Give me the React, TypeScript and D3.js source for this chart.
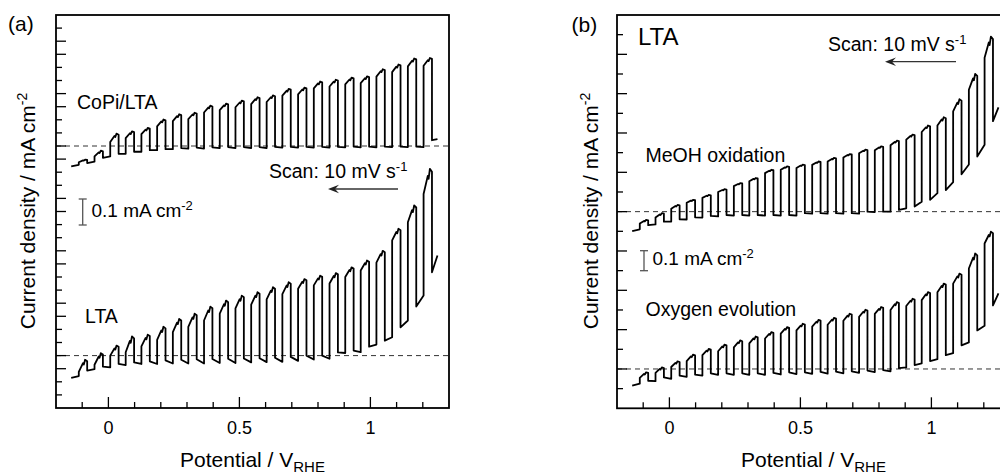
import React from "react";
import * as d3 from "d3";

// ---------- data ----------
// chopped-light LSV, scan 10 mV/s from high to low potential; values in mA cm^-2
const pulseStart = [
  -0.113, -0.053, 0.007, 0.066, 0.126, 0.186, 0.246, 0.305, 0.365, 0.425, 0.485, 0.545,
  0.604, 0.664, 0.724, 0.784, 0.844, 0.904, 0.963, 1.023, 1.083, 1.143, 1.203,
];
const chopOn = 0.032; // width (V) of each illuminated interval
const traceStartV = -0.142;
const traceEndV = 1.256;
const xTickLabels = [0, 0.5, 1];

// (a) CoPi/LTA (plotted with +0.8 offset)
const copiStart = -0.078;
const copiDarkBefore = [-0.072, -0.06, -0.04, -0.03, -0.022, -0.016, -0.012, -0.01, -0.01, -0.008, -0.008, -0.008, -0.008, -0.006, -0.006, -0.006, -0.006, -0.005, -0.005, -0.005, -0.004, -0.004, -0.004];
const copiOnStart = [-0.062, -0.04, 0.015, 0.03, 0.045, 0.075, 0.095, 0.103, 0.128, 0.137, 0.148, 0.16, 0.168, 0.192, 0.197, 0.22, 0.227, 0.235, 0.24, 0.265, 0.282, 0.304, 0.306];
const copiPeak = [-0.052, -0.018, 0.047, 0.056, 0.069, 0.101, 0.121, 0.127, 0.154, 0.162, 0.173, 0.186, 0.193, 0.218, 0.223, 0.246, 0.253, 0.261, 0.266, 0.293, 0.311, 0.334, 0.336];
const copiDarkAfter = [-0.065, -0.045, -0.03, -0.022, -0.016, -0.012, -0.008, -0.006, -0.005, -0.004, -0.004, -0.004, -0.003, -0.003, -0.003, -0.003, -0.003, -0.002, -0.002, -0.002, -0.002, -0.002, 0.022];
const copiEnd = 0.026;

// (a) LTA
const ltaStart = -0.085;
const ltaDarkBefore = [-0.078, -0.052, -0.045, -0.036, -0.032, -0.032, -0.03, -0.03, -0.03, -0.028, -0.028, -0.026, -0.025, -0.024, -0.02, -0.015, -0.012, 0.01, 0.013, 0.042, 0.07, 0.134, 0.229];
const ltaOnStart = [-0.062, -0.035, 0.0, 0.013, 0.035, 0.06, 0.09, 0.11, 0.134, 0.16, 0.18, 0.195, 0.215, 0.235, 0.255, 0.268, 0.275, 0.3, 0.325, 0.355, 0.44, 0.509, 0.617];
const ltaPeak = [-0.016, 0.009, 0.038, 0.073, 0.08, 0.11, 0.14, 0.16, 0.187, 0.21, 0.229, 0.242, 0.261, 0.28, 0.292, 0.305, 0.315, 0.337, 0.363, 0.4, 0.484, 0.573, 0.713];
const ltaDarkAfter = [-0.057, -0.042, -0.032, -0.026, -0.022, -0.018, -0.016, -0.014, -0.013, -0.012, -0.011, -0.01, -0.008, -0.005, 0.0, 0.0, 0.012, 0.019, 0.034, 0.057, 0.108, 0.187, 0.318];
const ltaEnd = 0.382;

// (b) MeOH oxidation (plotted with +0.8 offset)
const meohStart = -0.099;
const meohDarkBefore = [-0.09, -0.065, -0.05, -0.04, -0.03, -0.024, -0.02, -0.02, -0.02, -0.02, -0.02, -0.01, -0.01, -0.01, -0.01, -0.002, 0.0, 0.017, 0.05, 0.094, 0.15, 0.24, 0.34];
const meohOnStart = [-0.06, -0.03, 0.015, 0.045, 0.07, 0.1, 0.13, 0.155, 0.196, 0.213, 0.222, 0.238, 0.255, 0.275, 0.297, 0.312, 0.338, 0.366, 0.405, 0.438, 0.51, 0.62, 0.783];
const meohPeak = [-0.042, -0.008, 0.034, 0.06, 0.085, 0.114, 0.145, 0.171, 0.213, 0.23, 0.239, 0.255, 0.273, 0.293, 0.315, 0.332, 0.361, 0.392, 0.438, 0.48, 0.572, 0.7, 0.89];
const meohDarkAfter = [-0.069, -0.051, -0.039, -0.029, -0.022, -0.017, -0.017, -0.017, -0.017, -0.017, -0.008, -0.008, -0.008, -0.008, 0.0, 0.0, 0.009, 0.026, 0.06, 0.11, 0.19, 0.28, 0.46];
const meohEnd = 0.53;

// (b) Oxygen evolution
const oerStart = -0.085;
const oerDarkBefore = [-0.075, -0.062, -0.05, -0.04, -0.034, -0.03, -0.03, -0.03, -0.03, -0.028, -0.026, -0.025, -0.024, -0.022, -0.02, -0.016, -0.012, 0.008, 0.028, 0.05, 0.08, 0.135, 0.22];
const oerOnStart = [-0.045, -0.02, 0.01, 0.04, 0.07, 0.09, 0.11, 0.13, 0.155, 0.18, 0.196, 0.215, 0.225, 0.245, 0.265, 0.28, 0.3, 0.32, 0.35, 0.39, 0.434, 0.511, 0.638];
const oerPeak = [-0.017, 0.008, 0.039, 0.073, 0.102, 0.124, 0.145, 0.165, 0.187, 0.213, 0.23, 0.25, 0.26, 0.281, 0.301, 0.315, 0.34, 0.357, 0.391, 0.434, 0.485, 0.587, 0.698];
const oerDarkAfter = [-0.06, -0.043, -0.034, -0.029, -0.022, -0.022, -0.022, -0.022, -0.02, -0.017, -0.017, -0.015, -0.014, -0.012, -0.008, -0.006, 0.004, 0.02, 0.04, 0.07, 0.12, 0.196, 0.323];
const oerEnd = 0.385;

type Trace = {
  start: number; end: number; offset: number;
  darkBefore: number[]; onStart: number[]; peak: number[]; darkAfter: number[];
};

const copi: Trace = { start: copiStart, end: copiEnd, offset: 0.8, darkBefore: copiDarkBefore, onStart: copiOnStart, peak: copiPeak, darkAfter: copiDarkAfter };
const lta: Trace = { start: ltaStart, end: ltaEnd, offset: 0, darkBefore: ltaDarkBefore, onStart: ltaOnStart, peak: ltaPeak, darkAfter: ltaDarkAfter };
const meoh: Trace = { start: meohStart, end: meohEnd, offset: 0.8, darkBefore: meohDarkBefore, onStart: meohOnStart, peak: meohPeak, darkAfter: meohDarkAfter };
const oer: Trace = { start: oerStart, end: oerEnd, offset: 0, darkBefore: oerDarkBefore, onStart: oerOnStart, peak: oerPeak, darkAfter: oerDarkAfter };

function tracePoints(t: Trace): [number, number][] {
  const pts: [number, number][] = [[traceStartV, t.start]];
  pulseStart.forEach((v0, i) => {
    const w = chopOn;
    const a = t.onStart[i];
    const p = t.peak[i];
    pts.push([v0, t.darkBefore[i]]);
    pts.push([v0, a]);
    pts.push([v0 + 0.5 * w, a + 0.72 * (p - a)]);
    pts.push([v0 + 0.6 * w, a + 0.6 * (p - a)]);
    pts.push([v0 + 0.75 * w, p]);
    pts.push([v0 + w, p - 0.12 * (p - a)]);
    pts.push([v0 + w, t.darkAfter[i]]);
  });
  pts.push([traceEndV, t.end]);
  return pts.map(([v, c]) => [v, c + t.offset]);
}

const FONT = "Arial, 'Liberation Sans', Helvetica, sans-serif";

type PanelProps = {
  left: number; right: number; top: number; bottom: number; yMax: number;
  traces: Trace[]; baselines: number[]; children?: React.ReactNode;
};

function Panel({ left, right, top, bottom, yMax, traces, baselines, children }: PanelProps) {
  const x = d3.scaleLinear().domain([-0.2, 1.3]).range([left, right]);
  const y = d3.scaleLinear().domain([-0.2, yMax]).range([bottom, top]);
  const line = d3.line<[number, number]>().x((d) => x(d[0])).y((d) => y(d[1]));
  const xTicks = x.ticks(15).filter((v) => v > -0.2 + 1e-6 && v < 1.3 - 1e-6);
  const yTicks = y.ticks(25).filter((v) => v > -0.2 + 1e-6 && v < yMax - 1e-6);
  const isMajorX = (v: number) => xTickLabels.some((l) => Math.abs(l - v) < 1e-6);
  const isMajorY = (v: number) => Math.abs(Math.round(v * 10)) % 2 === 0;
  return (
    <g>
      {baselines.map((b) => (
        <line key={b} x1={left} x2={right} y1={y(b)} y2={y(b)} stroke="#333" strokeWidth={1} strokeDasharray="5,4" />
      ))}
      {traces.map((t, i) => (
        <path key={i} d={line(tracePoints(t)) || ""} fill="none" stroke="#000" strokeWidth={1.8} strokeLinejoin="round" />
      ))}
      {xTicks.map((v) => (
        <line key={"x" + v} x1={x(v)} x2={x(v)} y1={bottom} y2={bottom - (isMajorX(v) ? 11 : 6)} stroke="#000" strokeWidth={1.3} />
      ))}
      {yTicks.map((v) => (
        <line key={"y" + v} x1={left} x2={left + (isMajorY(v) ? 10 : 6)} y1={y(v)} y2={y(v)} stroke="#000" strokeWidth={1.3} />
      ))}
      {xTickLabels.map((v) => (
        <text key={"l" + v} x={x(v)} y={434} textAnchor="middle" fontSize={18}>{String(v)}</text>
      ))}
      <rect x={left} y={top} width={right - left} height={bottom - top} fill="none" stroke="#000" strokeWidth={1.8} />
      <text x={(left + right) / 2} y={467} textAnchor="middle" fontSize={21}>
        Potential / V<tspan dy={5} fontSize={15}>RHE</tspan>
      </text>
      {children}
    </g>
  );
}

function Arrow({ x1, x2, y }: { x1: number; x2: number; y: number }) {
  // arrow from x1 (tail, right) pointing to x2 (tip, left)
  return (
    <g>
      <line x1={x1} x2={x2 + 5} y1={y} y2={y} stroke="#333" strokeWidth={1.3} />
      <path d={`M${x2},${y} L${x2 + 11},${y - 4.2} L${x2 + 7},${y} L${x2 + 11},${y + 4.2} Z`} fill="#222" />
    </g>
  );
}

function ScaleBar({ x, y1, y2 }: { x: number; y1: number; y2: number }) {
  return (
    <g stroke="#555" strokeWidth={1.3}>
      <line x1={x} x2={x} y1={y1} y2={y2} />
      <line x1={x - 4} x2={x + 4} y1={y1} y2={y1} />
      <line x1={x - 4} x2={x + 4} y1={y2} y2={y2} />
    </g>
  );
}

function YTitle({ x, y }: { x: number; y: number }) {
  return (
    <text transform={`translate(${x},${y}) rotate(-90)`} textAnchor="middle" fontSize={21}>
      Current density / mA cm<tspan dy={-8} fontSize={14}>-2</tspan>
    </text>
  );
}

export default function App() {
  return (
    <svg width={1000} height={476} style={{ position: "absolute", left: 0, top: 0, background: "#fff" }} fontFamily={FONT} fill="#000">
      <rect x={0} y={0} width={1000} height={476} fill="#fff" />
      <Panel left={56} right={449} top={15} bottom={408} yMax={1.3} traces={[copi, lta]} baselines={[0.8, 0]}>
        <text x={8} y={31} fontSize={21}>(a)</text>
        <YTitle x={35} y={211} />
        <text x={77} y={109} fontSize={19.5}>CoPi/LTA</text>
        <text x={269} y={177.5} fontSize={19.5}>
          Scan: 10 mV s<tspan dy={-7} fontSize={13}>-1</tspan>
        </text>
        <Arrow x1={398} x2={328} y={189} />
        <ScaleBar x={82.7} y1={199} y2={225} />
        <text x={91.5} y={217} fontSize={19}>
          0.1 mA cm<tspan dy={-7} fontSize={13}>-2</tspan>
        </text>
        <text x={85} y={322.5} fontSize={19.5}>LTA</text>
      </Panel>
      <Panel left={617} right={1010} top={15} bottom={408.3} yMax={1.8} traces={[meoh, oer]} baselines={[0.8, 0]}>
        <text x={571.5} y={31.5} fontSize={21}>(b)</text>
        <YTitle x={598} y={211} />
        <text x={638} y={45} fontSize={24}>LTA</text>
        <text x={828} y={51} fontSize={19.5}>
          Scan: 10 mV s<tspan dy={-7} fontSize={13}>-1</tspan>
        </text>
        <Arrow x1={956} x2={885} y={61.7} />
        <text x={645.5} y={161.7} fontSize={19.5}>MeOH oxidation</text>
        <ScaleBar x={644} y1={250.7} y2={270.7} />
        <text x={652.5} y={265} fontSize={19}>
          0.1 mA cm<tspan dy={-7} fontSize={13}>-2</tspan>
        </text>
        <text x={645.5} y={316} fontSize={19.5}>Oxygen evolution</text>
      </Panel>
    </svg>
  );
}
